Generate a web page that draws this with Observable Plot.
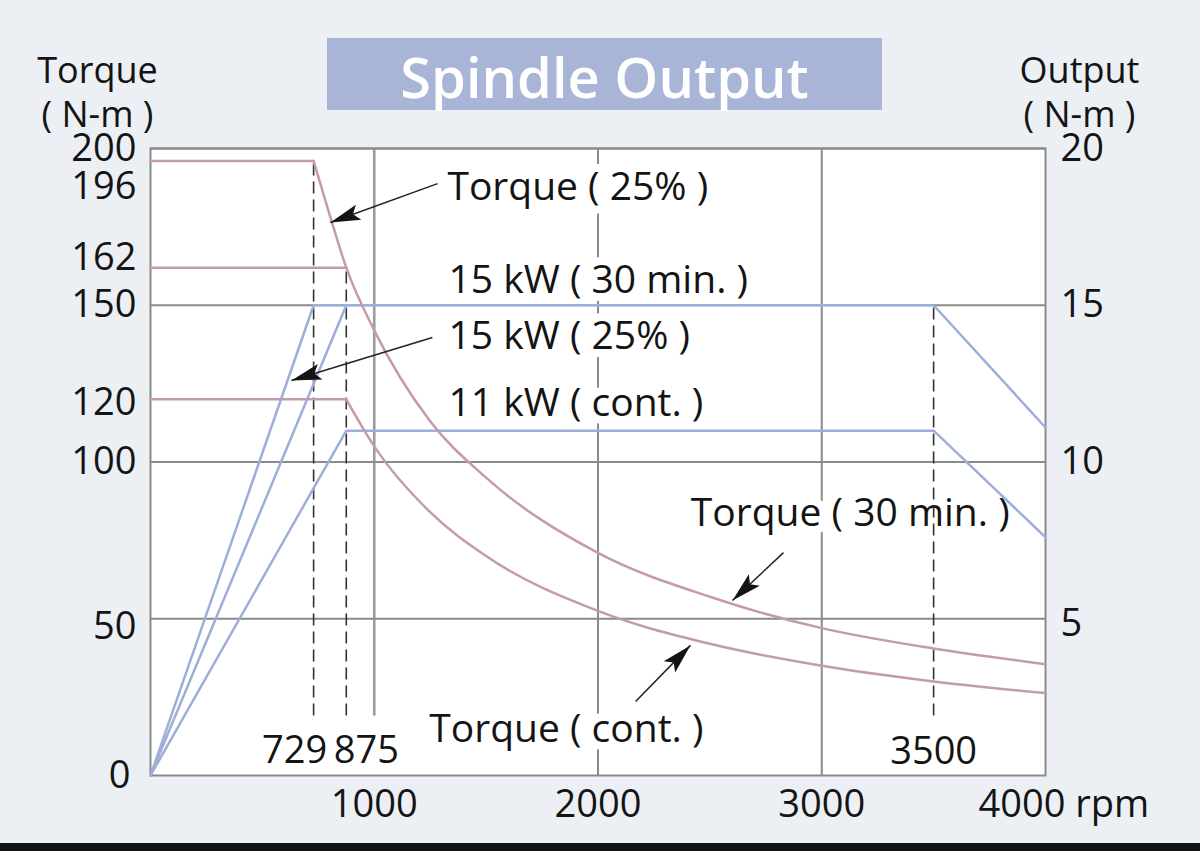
<!DOCTYPE html>
<html>
<head>
<meta charset="utf-8">
<script src="https://cdn.jsdelivr.net/npm/d3@7"></script>
<script src="https://cdn.jsdelivr.net/npm/@observablehq/plot@0.6"></script>
<style>
  html, body { margin: 0; padding: 0; background: #eceff4; }
  #wrap { position: relative; width: 1200px; height: 851px; overflow: hidden; background: #eceff4; font-family: "Open Sans", sans-serif; }
  #title { position: absolute; left: 327px; top: 38px; width: 555px; height: 72px; background: #a8b5d6; color: #fff;
           font-size: 56px; font-weight: 600; line-height: 76px; text-align: center; letter-spacing: 0px; }
  #bar { position: absolute; left: 0; top: 843px; width: 1200px; height: 8px; background: #111; }
  #chart { position: absolute; left: 0; top: 0; }
</style>
</head>
<body>
<div id="wrap">
  <div id="chart"></div>
  <div id="title">Spindle Output</div>
  <div id="bar"></div>
</div>
<script>
// ---------- data ----------
const rpmTicks = [1000, 2000, 3000];
const rpmLastTick = 4000;
const rpmLastTickLabel = "4000 rpm";
const torqueTicks = [0, 50, 100, 120, 150, 162, 196, 200];
const torqueGrid = [50, 100, 150, 200];
const outputTicks = [5, 10, 15, 20];           // kW, right axis
const kwToNm = 10;                              // right axis 20 kW ↔ left 200 N·m

// Torque curves (N·m)
const rpmFlat25 = [0, 729],   nmFlat25 = [196, 196];
const rpmFlat30 = [0, 875],   nmFlat30 = [162, 162];
const rpmFlatCont = [0, 875], nmFlatCont = [120, 120];
const rpmUpper = [729, 800, 875, 1000, 1250, 1500, 2000, 2500, 3000, 3500, 4000];
const nmUpper  = [196, 179, 162, 142, 113, 95, 71, 57, 47, 40.5, 35.5];
const rpmLower = [875, 1000, 1250, 1500, 2000, 2500, 3000, 3500, 4000];
const nmLower  = [120, 105, 84, 70, 52.5, 42, 35, 30, 26.3];

// Output curves (kW)
const rpmOut25 = [0, 729, 875],         kwOut25 = [0, 15, 15];
const rpmOut30 = [0, 875, 3500, 4000],  kwOut30 = [0, 15, 15, 11.1];
const rpmOutCont = [0, 875, 3500, 4000], kwOutCont = [0, 11, 11, 7.6];

// Dashed reference lines
const markerRpm = [729, 875, 3500];
const markerTopNm = [196, 162, 150];
const markerBottomNm = 19;

// Annotation labels
const labelText = ["Torque ( 25% )", "15 kW ( 30 min. )", "15 kW ( 25% )", "11 kW ( cont. )", "Torque ( 30 min. )", "Torque ( cont. )"];
const labelRpm  = [1327, 1332, 1332, 1332, 2415, 1246];
const labelNm   = [187.6, 157.9, 140, 118.7, 83.6, 14.7];

// Arrows (tail → tip)
const arrowTailRpm = [1283, 1260, 2829, 2168];
const arrowTailNm  = [188.8, 139.7, 71.1, 23.6];
const arrowTipRpm  = [804, 630, 2601, 2413];
const arrowTipNm   = [176.4, 126.0, 55.8, 41.5];

// ---------- helpers ----------
const pts = (xs, ys, k = 1) => xs.map((x, i) => ({rpm: x, v: ys[i] * k}));
const idx = (a) => a.map((_, i) => i);

const torqueColor = "#c49ca9";
const outputColor = "#9dafd9";
const gridColor = "#8a8a8a";
const ink = "#141414";
const font = 38;

const nudgeLeft = {196: 26, 162: -10, 120: 4, 50: 8};
const leftTickMarks = torqueTicks.map(t => Plot.text([t], {
  x: 0, y: d => d, text: d => String(d), textAnchor: "end",
  dx: t === 0 ? -20 : -14, dy: nudgeLeft[t] || 0, fontSize: font, fill: ink
}));
const nudgeRight = {5: 5};
const rightTickMarks = outputTicks.map(t => Plot.text([t], {
  x: 4000, y: d => d * kwToNm, text: d => String(d), textAnchor: "start",
  dx: 15, dy: nudgeRight[t] || 0, fontSize: font, fill: ink
}));

const chart = Plot.plot({
  width: 1200,
  height: 843,
  marginLeft: 150,
  marginRight: 155,
  marginTop: 148,
  marginBottom: 68,
  x: {domain: [0, 4000], axis: null},
  y: {domain: [0, 200], axis: null},
  style: {background: "transparent", fontFamily: "'Open Sans', sans-serif", overflow: "visible"},
  marks: [
    Plot.frame({fill: "white", stroke: null}),
    Plot.ruleY(torqueGrid, {stroke: gridColor, strokeWidth: 2}),
    Plot.ruleX(rpmTicks.slice(1), {stroke: gridColor, strokeWidth: 2}),
    Plot.ruleX(rpmTicks.slice(0, 1), {y1: markerBottomNm, y2: 200, stroke: gridColor, strokeWidth: 2.6, strokeOpacity: 0.85}),
    Plot.frame({stroke: gridColor, strokeWidth: 2}),

    // annotation labels with white halo (hide gridlines behind them)
    Plot.text(idx(labelText), {
      x: i => labelRpm[i], y: i => labelNm[i], text: i => labelText[i],
      textAnchor: "start", fontSize: 39, fill: ink,
      stroke: "white", strokeWidth: 16, paintOrder: "stroke", strokeLinejoin: "round"
    }),

    // dashed reference lines
    Plot.ruleX(idx(markerRpm), {
      x: i => markerRpm[i], y1: markerBottomNm, y2: i => markerTopNm[i],
      stroke: "#333", strokeWidth: 1.6, strokeDasharray: "12,6"
    }),

    // output curves (blue)
    Plot.line(pts(rpmOut25, kwOut25, kwToNm), {x: "rpm", y: "v", stroke: outputColor, strokeWidth: 2.5}),
    Plot.line(pts(rpmOut30, kwOut30, kwToNm), {x: "rpm", y: "v", stroke: outputColor, strokeWidth: 2.5}),
    Plot.line(pts(rpmOutCont, kwOutCont, kwToNm), {x: "rpm", y: "v", stroke: outputColor, strokeWidth: 2.5}),

    // torque curves (pink)
    Plot.line(pts(rpmFlat25, nmFlat25), {x: "rpm", y: "v", stroke: torqueColor, strokeWidth: 2.5}),
    Plot.line(pts(rpmFlat30, nmFlat30), {x: "rpm", y: "v", stroke: torqueColor, strokeWidth: 2.5}),
    Plot.line(pts(rpmFlatCont, nmFlatCont), {x: "rpm", y: "v", stroke: torqueColor, strokeWidth: 2.5}),
    Plot.line(pts(rpmUpper, nmUpper), {x: "rpm", y: "v", stroke: torqueColor, strokeWidth: 2.5, curve: "monotone-x"}),
    Plot.line(pts(rpmLower, nmLower), {x: "rpm", y: "v", stroke: torqueColor, strokeWidth: 2.5, curve: "monotone-x"}),

    // arrows (filled heads attached below)
    Plot.link(idx(arrowTailRpm), {
      x1: i => arrowTailRpm[i], y1: i => arrowTailNm[i],
      x2: i => arrowTipRpm[i], y2: i => arrowTipNm[i],
      stroke: "#222", strokeWidth: 1.5, ariaLabel: "arrow-link"
    }),

    // rpm marker labels
    Plot.text([729], {x: d => d, y: 0, text: d => String(d), dx: -19, dy: -25, fontSize: font, fill: ink}),
    Plot.text([875], {x: d => d, y: 0, text: d => String(d), dx: 20, dy: -25, fontSize: font, fill: ink}),
    Plot.text([3500], {x: d => d, y: 0, text: d => String(d), dx: 0, dy: -24, fontSize: font, fill: ink}),

    // x tick labels
    Plot.text(rpmTicks, {x: d => d, y: 0, text: d => String(d), dy: 29, fontSize: font, fill: ink}),
    Plot.text([rpmLastTick], {x: d => d, y: 0, text: () => rpmLastTickLabel, textAnchor: "start", dx: -67, dy: 29, fontSize: font, fill: ink}),

    // y tick labels
    ...leftTickMarks,
    ...rightTickMarks,

    // axis titles (two lines each)
    Plot.text(["Torque\n( N-m )"], {x: 0, y: 200, text: d => d, dx: -53, dy: -58, lineHeight: 1.22, fontSize: 36, fill: ink}),
    Plot.text(["Output\n( N-m )"], {x: 4000, y: 200, text: d => d, dx: 34, dy: -58, lineHeight: 1.22, fontSize: 36, fill: ink})
  ]
});

// filled triangular arrowheads for the leader lines
(function addArrowHeads(svg) {
  const s = d3.select(svg);
  const defs = s.insert("defs", ":first-child");
  defs.append("marker")
    .attr("id", "filled-arrow-head")
    .attr("viewBox", "-31 -9 32 18")
    .attr("markerWidth", 32)
    .attr("markerHeight", 18)
    .attr("markerUnits", "userSpaceOnUse")
    .attr("refX", 0)
    .attr("refY", 0)
    .attr("orient", "auto")
    .append("path")
    .attr("d", "M0,0L-30,-8L-24,0L-30,8Z")
    .attr("fill", "#141414");
  s.selectAll('g[aria-label="arrow-link"] path, g[aria-label="link"] path')
    .attr("marker-end", "url(#filled-arrow-head)");
})(chart);

document.getElementById("chart").appendChild(chart);
</script>
</body>
</html>
